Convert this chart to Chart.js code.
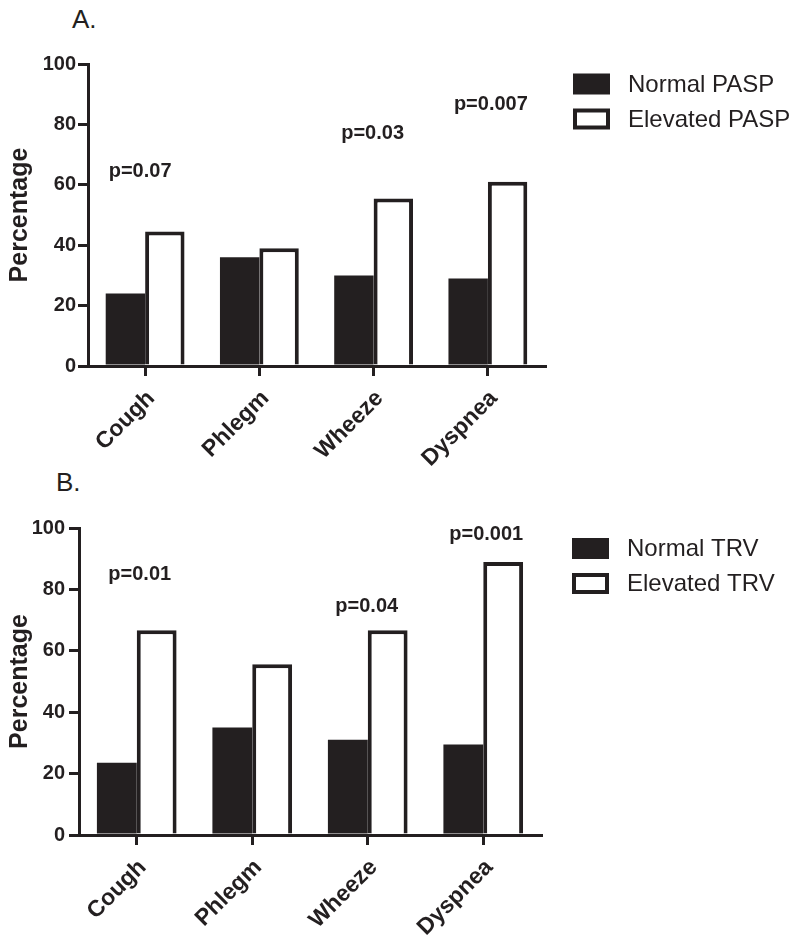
<!DOCTYPE html>
<html>
<head>
<meta charset="utf-8">
<script src="https://cdn.jsdelivr.net/npm/chart.js@4"></script>
<style>
  html, body { margin: 0; padding: 0; background: #fff; }
  body { width: 800px; height: 944px; position: relative; overflow: hidden; font-family: "Liberation Sans", Arial, sans-serif; }
  canvas { position: absolute; left: 0; }
  #cA { top: 0; }
  #cB { top: 472px; }
  .panel { position: absolute; font-size: 26px; color: #231f20; line-height: 1; }
</style>
</head>
<body>
<div class="panel" id="tA" style="left:72px; top:6px;">A.</div>
<div class="panel" id="tB" style="left:56px; top:469px;">B.</div>
<canvas id="cA" width="800" height="472"></canvas>
<canvas id="cB" width="800" height="472"></canvas>
<script>
// ---- data ----
const categories = ['Cough', 'Phlegm', 'Wheeze', 'Dyspnea'];
const normalPASP = [24, 36, 30, 29];
const elevatedPASP = [44.5, 39, 55.5, 61];
const normalTRV = [23.5, 35, 31, 29.5];
const elevatedTRV = [66.7, 55.6, 66.7, 88.9];
const seriesNamesA = ['Normal PASP', 'Elevated PASP'];
const seriesNamesB = ['Normal TRV', 'Elevated TRV'];
const pTextA = ['p=0.07', '', 'p=0.03', 'p=0.007'];
const pValueA = [62.7, null, 75.2, 84.8];
const pTextB = ['p=0.01', '', 'p=0.04', 'p=0.001'];
const pValueB = [83, null, 72.7, 96.1];
const yMin = 0, yMax = 100, yStep = 20;

const INK = '#231f20';
const FONT = '"Liberation Sans", Arial, Helvetica, sans-serif';

const pLabelPlugin = {
  id: 'pLabels',
  afterDatasetsDraw(chart, args, opts) {
    const {ctx} = chart;
    const xs = chart.scales.x, ys = chart.scales.y;
    ctx.save();
    ctx.font = 'bold 20px ' + FONT;
    ctx.fillStyle = INK;
    ctx.textAlign = 'center';
    ctx.textBaseline = 'alphabetic';
    opts.texts.forEach((t, i) => {
      if (!t || opts.values[i] == null) return;
      ctx.fillText(t, xs.getPixelForValue(i) + (opts.dx ? opts.dx[i] : 0), ys.getPixelForValue(opts.values[i]));
    });
    ctx.restore();
  }
};

const legendPlugin = {
  id: 'boxLegend',
  afterDraw(chart, args, opts) {
    const {ctx} = chart;
    ctx.save();
    chart.data.datasets.forEach((ds, i) => {
      const cy = opts.y0 + i * opts.gap;
      const bx = opts.x, bw = 37, bh = 21;
      const by = cy - bh / 2;
      if (ds.borderWidth > 0) {
        ctx.fillStyle = ds.borderColor;
        ctx.fillRect(bx, by, bw, bh);
        ctx.fillStyle = ds.backgroundColor;
        const b = ds.borderWidth;
        ctx.fillRect(bx + b, by + b, bw - 2 * b, bh - 2 * b);
      } else {
        ctx.fillStyle = ds.backgroundColor;
        ctx.fillRect(bx, by, bw, bh);
      }
      ctx.fillStyle = INK;
      ctx.font = '24px ' + FONT;
      ctx.textAlign = 'left';
      ctx.textBaseline = 'middle';
      ctx.fillText(ds.label, opts.textX, cy + 1);
    });
    ctx.restore();
  }
};

function makeChart(id, normal, elevated, names, pTexts, pVals, g) {
  const H = 472;
  return new Chart(document.getElementById(id), {
    type: 'bar',
    data: {
      labels: categories,
      datasets: [
        { label: names[0], data: normal, backgroundColor: INK, borderColor: INK, borderWidth: 0 },
        { label: names[1], data: elevated, backgroundColor: '#ffffff', borderColor: INK, borderWidth: 4 }
      ]
    },
    options: {
      responsive: false,
      animation: false,
      categoryPercentage: 0.69,
      barPercentage: 1.0,
      layout: { padding: { top: g.top, right: 800 - g.right, left: 0, bottom: 0 } },
      plugins: {
        legend: { display: false },
        tooltip: { enabled: false },
        pLabels: { texts: pTexts, values: pVals, dx: g.pdx },
        boxLegend: { x: g.legX, textX: g.legTextX, y0: g.legY, gap: 35 }
      },
      scales: {
        x: {
          z: 1,
          grid: { display: true, drawOnChartArea: false, drawTicks: true, tickLength: 10, color: INK, lineWidth: 3, offset: false },
          border: { display: true, color: INK, width: 3 },
          ticks: { color: INK, font: { family: FONT, size: 23, weight: 'bold' }, minRotation: 45, maxRotation: 45, autoSkip: false, padding: g.xpad, labelOffset: 6 },
          afterFit(scale) { scale.height = H - g.bottom; }
        },
        y: {
          z: 1,
          min: yMin, max: yMax,
          grid: { display: true, drawOnChartArea: false, drawTicks: true, tickLength: 10, color: INK, lineWidth: 3 },
          border: { display: true, color: INK, width: 3 },
          ticks: { stepSize: yStep, color: INK, font: { family: FONT, size: 20, weight: 'bold' }, padding: g.ypad },
          title: { display: true, text: 'Percentage', color: INK, font: { family: FONT, size: 25, weight: 'bold' }, padding: { top: 5, bottom: 0 } },
          afterFit(scale) { scale.width = g.left; }
        }
      }
    },
    plugins: [pLabelPlugin, legendPlugin]
  });
}

makeChart('cA', normalPASP, elevatedPASP, seriesNamesA, pTextA, pValueA,
  { left: 88, right: 545, top: 64, bottom: 366, ypad: 2, xpad: 9, legX: 573, legTextX: 628, legY: 84, pdx: [-5, 0, -1, 3] });
makeChart('cB', normalTRV, elevatedTRV, seriesNamesB, pTextB, pValueB,
  { left: 79, right: 541, top: 56, bottom: 363, ypad: 4, xpad: 9, legX: 572, legTextX: 627, legY: 76.5, pdx: [3, 0, -1, 3] });
</script>
</body>
</html>
